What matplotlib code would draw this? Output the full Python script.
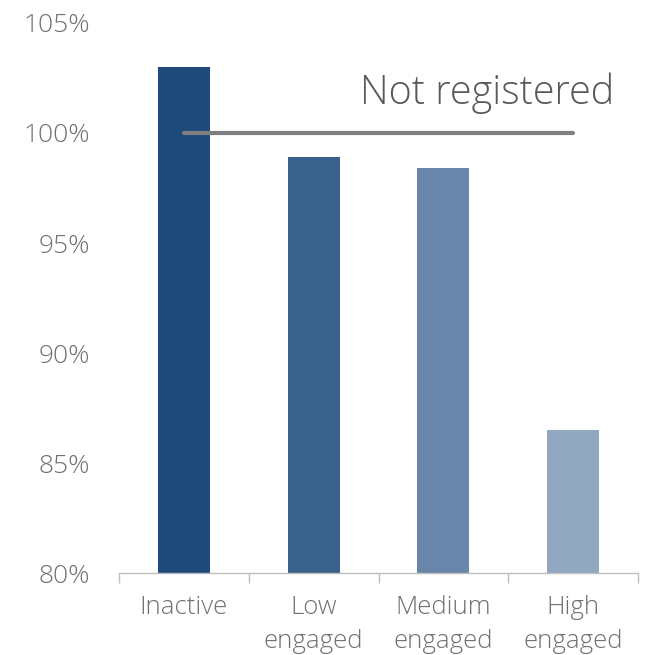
import matplotlib.pyplot as plt
from matplotlib.ticker import FixedLocator, FuncFormatter

categories = ['Inactive', 'Low\nengaged', 'Medium\nengaged', 'High\nengaged']
values = [103.0, 98.9, 98.4, 86.5]
baseline = 100.0
baseline_label = 'Not registered'
colors = ['#1f497a', '#3a608c', '#6786a9', '#92a7c0']
yticks = [80, 85, 90, 95, 100, 105]

plt.rcParams['font.family'] = ['Open Sans', 'DejaVu Sans']
text_color = '#707070'

fig = plt.figure(figsize=(6.51, 6.55), dpi=100)
ax = fig.add_axes([0.183, 0.125, 0.797, 0.840])

x = range(len(categories))
ax.bar(x, values, width=0.4, color=colors, zorder=2)

# reference line at 100% spanning first to last bar centre
ax.plot([0, len(categories) - 1], [baseline, baseline], color='#808080',
        lw=3, solid_capstyle='round', zorder=3)
ax.text(len(categories) - 1 + 0.32, baseline + 1.8, baseline_label, ha='right', va='center',
        fontsize=28.5, color='#595959', fontweight='light')

ax.set_xlim(-0.5, len(categories) - 0.5)
ax.set_ylim(80, 105)
ax.yaxis.set_major_locator(FixedLocator(yticks))
ax.yaxis.set_major_formatter(FuncFormatter(lambda v, p: '%d%%' % v))
ax.tick_params(axis='y', length=0, pad=21, labelsize=19, labelcolor=text_color)

ax.set_xticks([i - 0.5 for i in range(len(categories) + 1)])
ax.set_xticklabels([])
ax.set_xticks(list(x), minor=True)
ax.set_xticklabels(categories, minor=True)
ax.tick_params(axis='x', which='major', length=7, width=1, color='#bfbfbf', direction='out')
ax.tick_params(axis='x', which='minor', length=0, pad=16, labelsize=18.5, labelcolor=text_color)
for lbl in ax.get_xticklabels(minor=True) + ax.get_yticklabels():
    lbl.set_fontweight('light')
    lbl.set_linespacing(1.45)

for s in ['top', 'right', 'left']:
    ax.spines[s].set_visible(False)
ax.spines['bottom'].set_color('#bfbfbf')
ax.spines['bottom'].set_linewidth(1)

fig.savefig('out.png', dpi=100)
